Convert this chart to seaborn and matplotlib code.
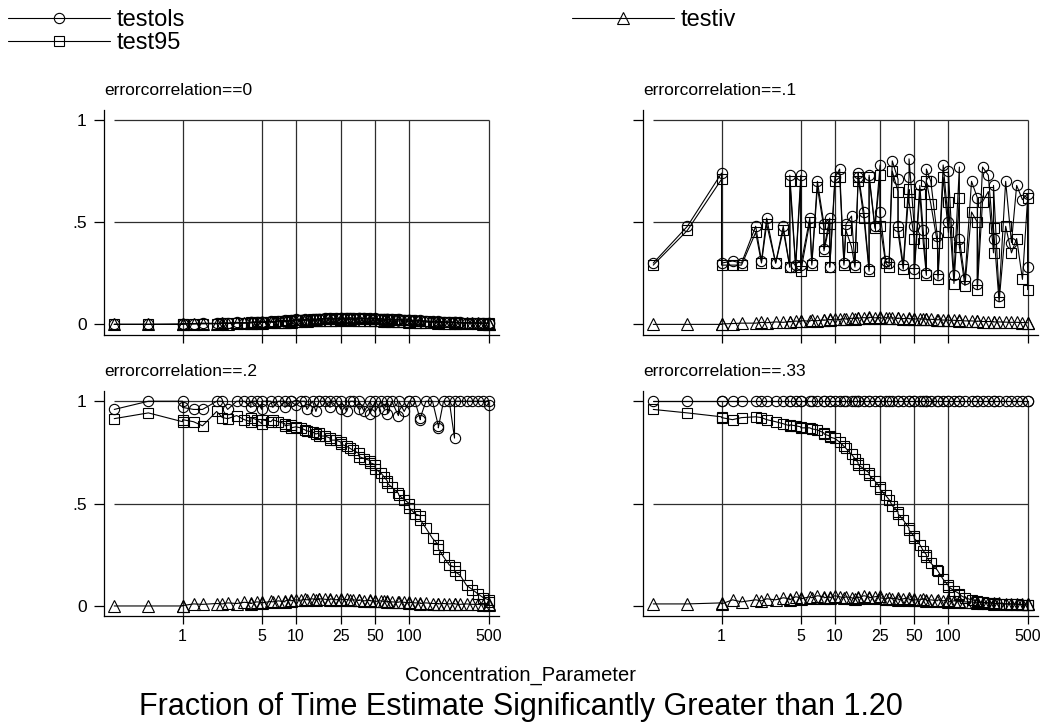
import matplotlib
matplotlib.use("Agg")
import matplotlib.pyplot as plt
from matplotlib.ticker import NullLocator
import seaborn as sns
import numpy as np

# ---------------- data ----------------
conc = [0.25, 0.5, 1, 1, 1.25, 1.5, 2, 2.25, 2.5, 3,
        3.5, 4, 4, 4.5, 5, 5, 6, 6.25, 7, 8,
        8, 9, 9, 10, 11, 12, 12.5, 14, 15, 16,
        16, 18, 20, 20, 22.5, 25, 25, 28, 30, 32,
        36, 36, 40, 45, 45, 50, 50, 56, 60, 64,
        64, 70, 80, 81, 90, 100, 100, 112, 125, 125,
        140, 160, 180, 180, 200, 225, 250, 250, 280, 320,
        360, 400, 450, 500, 500]

# errorcorrelation == 0
ols_0 = [0.000, 0.000, 0.002, 0.004, 0.004, 0.006, 0.005, 0.008, 0.006, 0.010,
         0.008, 0.012, 0.010, 0.012, 0.014, 0.012, 0.016, 0.013, 0.018, 0.020,
         0.016, 0.022, 0.018, 0.024, 0.021, 0.025, 0.022, 0.027, 0.024, 0.028,
         0.026, 0.030, 0.027, 0.031, 0.029, 0.032, 0.030, 0.031, 0.033, 0.030,
         0.032, 0.029, 0.031, 0.030, 0.028, 0.029, 0.027, 0.028, 0.026, 0.027,
         0.025, 0.026, 0.024, 0.025, 0.022, 0.023, 0.021, 0.020, 0.019, 0.018,
         0.017, 0.016, 0.015, 0.014, 0.013, 0.012, 0.011, 0.010, 0.010, 0.009,
         0.008, 0.008, 0.007, 0.006, 0.005]
t95_0 = [0.000, 0.000, 0.000, 0.002, 0.003, 0.004, 0.004, 0.006, 0.005, 0.008,
         0.007, 0.010, 0.009, 0.011, 0.012, 0.011, 0.014, 0.012, 0.016, 0.018,
         0.015, 0.020, 0.017, 0.022, 0.020, 0.023, 0.021, 0.025, 0.023, 0.026,
         0.025, 0.028, 0.026, 0.029, 0.027, 0.030, 0.028, 0.029, 0.030, 0.028,
         0.030, 0.027, 0.029, 0.028, 0.026, 0.027, 0.025, 0.026, 0.024, 0.025,
         0.023, 0.024, 0.022, 0.023, 0.020, 0.021, 0.019, 0.018, 0.017, 0.016,
         0.015, 0.014, 0.013, 0.012, 0.011, 0.011, 0.010, 0.009, 0.009, 0.008,
         0.007, 0.007, 0.006, 0.005, 0.004]
iv_0 = [0.000, 0.000, 0.000, 0.001, 0.002, 0.003, 0.003, 0.005, 0.004, 0.006,
        0.006, 0.008, 0.007, 0.009, 0.010, 0.009, 0.011, 0.010, 0.013, 0.014,
        0.012, 0.016, 0.014, 0.018, 0.016, 0.019, 0.017, 0.020, 0.019, 0.021,
        0.020, 0.022, 0.021, 0.023, 0.022, 0.024, 0.022, 0.023, 0.024, 0.022,
        0.023, 0.021, 0.022, 0.021, 0.020, 0.021, 0.019, 0.020, 0.018, 0.019,
        0.017, 0.018, 0.016, 0.017, 0.015, 0.015, 0.014, 0.013, 0.012, 0.012,
        0.011, 0.010, 0.010, 0.009, 0.008, 0.008, 0.007, 0.007, 0.006, 0.006,
        0.005, 0.005, 0.004, 0.004, 0.003]

# errorcorrelation == .1
ols_1 = [0.30, 0.48, 0.74, 0.30, 0.31, 0.30, 0.48, 0.31, 0.52, 0.30,
         0.48, 0.28, 0.73, 0.29, 0.73, 0.29, 0.52, 0.30, 0.70, 0.49,
         0.37, 0.52, 0.28, 0.72, 0.76, 0.30, 0.49, 0.53, 0.29, 0.72,
         0.74, 0.55, 0.27, 0.73, 0.48, 0.78, 0.55, 0.31, 0.30, 0.80,
         0.71, 0.48, 0.29, 0.72, 0.81, 0.48, 0.27, 0.68, 0.46, 0.25,
         0.76, 0.70, 0.43, 0.24, 0.78, 0.50, 0.75, 0.24, 0.77, 0.42,
         0.22, 0.70, 0.62, 0.20, 0.77, 0.73, 0.42, 0.68, 0.14, 0.70,
         0.40, 0.68, 0.61, 0.64, 0.28]
t95_1 = [0.29, 0.46, 0.71, 0.29, 0.29, 0.29, 0.45, 0.30, 0.49, 0.30,
         0.46, 0.28, 0.70, 0.28, 0.70, 0.26, 0.50, 0.29, 0.67, 0.47,
         0.36, 0.49, 0.28, 0.70, 0.72, 0.29, 0.46, 0.38, 0.28, 0.70,
         0.72, 0.52, 0.26, 0.72, 0.47, 0.73, 0.48, 0.30, 0.28, 0.75,
         0.65, 0.45, 0.27, 0.66, 0.60, 0.42, 0.25, 0.64, 0.40, 0.24,
         0.70, 0.59, 0.40, 0.22, 0.72, 0.45, 0.60, 0.20, 0.62, 0.38,
         0.19, 0.55, 0.50, 0.17, 0.60, 0.65, 0.35, 0.47, 0.11, 0.48,
         0.35, 0.42, 0.22, 0.62, 0.17]
iv_1 = [0.000, 0.000, 0.000, 0.002, 0.004, 0.006, 0.006, 0.010, 0.008, 0.012,
        0.010, 0.014, 0.012, 0.016, 0.015, 0.018, 0.016, 0.020, 0.018, 0.022,
        0.020, 0.024, 0.022, 0.026, 0.024, 0.028, 0.026, 0.030, 0.028, 0.032,
        0.030, 0.033, 0.031, 0.035, 0.032, 0.034, 0.030, 0.033, 0.030, 0.032,
        0.029, 0.031, 0.028, 0.030, 0.027, 0.028, 0.026, 0.027, 0.025, 0.026,
        0.024, 0.025, 0.022, 0.023, 0.021, 0.022, 0.020, 0.020, 0.018, 0.019,
        0.017, 0.017, 0.015, 0.016, 0.014, 0.014, 0.013, 0.012, 0.012, 0.011,
        0.010, 0.010, 0.009, 0.008, 0.008]

# errorcorrelation == .2
ols_2 = [0.96, 1.00, 1.00, 0.97, 0.96, 0.96, 1.00, 1.00, 0.96, 1.00,
         1.00, 0.97, 1.00, 1.00, 0.96, 1.00, 1.00, 0.97, 1.00, 1.00,
         0.97, 1.00, 1.00, 0.98, 1.00, 1.00, 0.96, 1.00, 0.95, 1.00,
         1.00, 1.00, 0.97, 1.00, 1.00, 0.96, 1.00, 0.95, 1.00, 1.00,
         0.96, 1.00, 0.95, 1.00, 0.94, 1.00, 0.95, 1.00, 0.96, 1.00,
         0.94, 1.00, 0.93, 1.00, 0.95, 1.00, 1.00, 1.00, 0.91, 0.92,
         1.00, 1.00, 0.88, 0.87, 1.00, 1.00, 0.82, 1.00, 1.00, 1.00,
         1.00, 1.00, 1.00, 1.00, 0.98]
t95_2 = [0.915, 0.943, 0.900, 0.910, 0.900, 0.880, 0.950, 0.920, 0.915, 0.930,
         0.910, 0.900, 0.920, 0.910, 0.890, 0.910, 0.900, 0.910, 0.900, 0.890,
         0.880, 0.885, 0.870, 0.875, 0.870, 0.860, 0.855, 0.850, 0.840, 0.845,
         0.830, 0.830, 0.820, 0.810, 0.810, 0.800, 0.790, 0.780, 0.770, 0.760,
         0.745, 0.730, 0.720, 0.710, 0.700, 0.690, 0.670, 0.650, 0.630, 0.610,
         0.600, 0.580, 0.550, 0.540, 0.520, 0.500, 0.480, 0.450, 0.440, 0.420,
         0.380, 0.330, 0.300, 0.280, 0.240, 0.200, 0.190, 0.170, 0.150, 0.100,
         0.080, 0.060, 0.040, 0.030, 0.020]
iv_2 = [0.000, 0.000, 0.000, 0.002, 0.010, 0.008, 0.012, 0.010, 0.015, 0.012,
        0.018, 0.015, 0.012, 0.020, 0.018, 0.015, 0.022, 0.020, 0.025, 0.020,
        0.025, 0.030, 0.025, 0.030, 0.028, 0.032, 0.030, 0.035, 0.030, 0.032,
        0.035, 0.033, 0.030, 0.035, 0.030, 0.035, 0.030, 0.032, 0.028, 0.030,
        0.027, 0.030, 0.025, 0.028, 0.025, 0.025, 0.022, 0.025, 0.022, 0.020,
        0.022, 0.020, 0.018, 0.020, 0.018, 0.015, 0.018, 0.015, 0.015, 0.012,
        0.015, 0.012, 0.012, 0.010, 0.012, 0.010, 0.012, 0.010, 0.008, 0.010,
        0.008, 0.008, 0.006, 0.008, 0.005]

# errorcorrelation == .33
ols_33 = [1.00, 1.00, 1.00, 1.00, 1.00, 1.00, 1.00, 1.00, 1.00, 1.00,
          1.00, 1.00, 1.00, 1.00, 1.00, 1.00, 1.00, 1.00, 1.00, 1.00,
          1.00, 1.00, 1.00, 1.00, 1.00, 1.00, 1.00, 1.00, 1.00, 1.00,
          1.00, 1.00, 1.00, 1.00, 1.00, 1.00, 1.00, 1.00, 1.00, 1.00,
          1.00, 1.00, 1.00, 1.00, 1.00, 1.00, 1.00, 1.00, 1.00, 1.00,
          1.00, 1.00, 1.00, 1.00, 1.00, 1.00, 1.00, 1.00, 1.00, 1.00,
          1.00, 1.00, 1.00, 1.00, 1.00, 1.00, 1.00, 1.00, 1.00, 1.00,
          1.00, 1.00, 1.00, 1.00, 1.00]
t95_33 = [0.960, 0.943, 0.924, 0.920, 0.910, 0.920, 0.924, 0.920, 0.910, 0.900,
          0.890, 0.880, 0.885, 0.880, 0.875, 0.870, 0.870, 0.865, 0.860, 0.845,
          0.840, 0.830, 0.825, 0.818, 0.800, 0.780, 0.770, 0.740, 0.720, 0.700,
          0.690, 0.670, 0.650, 0.640, 0.610, 0.580, 0.570, 0.540, 0.520, 0.490,
          0.460, 0.450, 0.420, 0.380, 0.370, 0.340, 0.330, 0.300, 0.270, 0.250,
          0.240, 0.210, 0.175, 0.170, 0.130, 0.100, 0.094, 0.075, 0.060, 0.055,
          0.040, 0.030, 0.025, 0.020, 0.018, 0.015, 0.013, 0.012, 0.012, 0.010,
          0.010, 0.008, 0.006, 0.005, 0.004]
iv_33 = [0.010, 0.010, 0.015, 0.010, 0.030, 0.020, 0.030, 0.025, 0.035, 0.030,
         0.040, 0.035, 0.030, 0.045, 0.040, 0.035, 0.045, 0.040, 0.050, 0.045,
         0.040, 0.045, 0.040, 0.050, 0.045, 0.040, 0.045, 0.040, 0.035, 0.045,
         0.040, 0.050, 0.045, 0.040, 0.045, 0.050, 0.040, 0.035, 0.040, 0.035,
         0.040, 0.030, 0.035, 0.040, 0.030, 0.035, 0.030, 0.030, 0.035, 0.030,
         0.025, 0.030, 0.025, 0.030, 0.025, 0.030, 0.020, 0.025, 0.020, 0.025,
         0.020, 0.020, 0.015, 0.020, 0.015, 0.015, 0.015, 0.010, 0.015, 0.010,
         0.010, 0.010, 0.008, 0.010, 0.008]

panel_titles = ["errorcorrelation==0", "errorcorrelation==.1",
                "errorcorrelation==.2", "errorcorrelation==.33"]
series_names = ["testols", "test95", "testiv"]
panel_data = [(ols_0, t95_0, iv_0), (ols_1, t95_1, iv_1),
              (ols_2, t95_2, iv_2), (ols_33, t95_33, iv_33)]
xtick_vals = [1, 5, 10, 25, 50, 100, 500]
xtick_labels = ["1", "5", "10", "25", "50", "100", "500"]
ytick_vals = [0, 0.5, 1]
ytick_labels = ["0", ".5", "1"]
x_title = "Concentration_Parameter"
main_title = "Fraction of Time Estimate Significantly Greater than 1.20"

# ---------------- style ----------------
sns.set_theme(style="white")
plt.rcParams['font.family'] = ['Liberation Sans', 'DejaVu Sans']
plt.rcParams['text.color'] = 'black'
plt.rcParams['axes.labelcolor'] = 'black'
plt.rcParams['xtick.color'] = 'black'
plt.rcParams['ytick.color'] = 'black'
plt.rcParams['axes.titlecolor'] = 'black'

W, H = 1042, 725
fig = plt.figure(figsize=(W / 100, H / 100), dpi=100)

def frac_rect(left_px, top_px, right_px, bottom_px):
    return [left_px / W, 1 - bottom_px / H, (right_px - left_px) / W, (bottom_px - top_px) / H]

rects = [frac_rect(104, 110, 499, 335), frac_rect(643, 110, 1038, 335),
         frac_rect(104, 391, 499, 616), frac_rect(643, 391, 1038, 616)]

markers = ["o", "s", "^"]
msizes = [7.4, 7.2, 8.0]
xlim = (0.203, 617)
ylims = [(-0.052, 1.049), (-0.052, 1.049), (-0.049, 1.050), (-0.049, 1.050)]
grid_c = "#2e2e2e"

axes = []
for i, rect in enumerate(rects):
    ax = fig.add_axes(rect)
    axes.append(ax)
    ax.set_xscale("log")
    ax.set_xlim(*xlim)
    ax.set_ylim(*ylims[i])
    # grid (Stata style: spans the data region)
    ax.hlines([v for v in ytick_vals if v > 0], min(conc), max(conc),
              colors=grid_c, lw=0.9, zorder=0.5)
    ax.vlines(xtick_vals, ylims[i][0], 1.0, colors=grid_c, lw=0.9, zorder=0.5)
    for s, (vals, mk, ms) in enumerate(zip(panel_data[i], markers, msizes)):
        sns.lineplot(x=conc, y=vals, ax=ax, estimator=None, sort=False,
                     errorbar=None, legend=False, color="black", lw=0.8,
                     marker=mk, markersize=ms, markerfacecolor="none",
                     markeredgecolor="black", markeredgewidth=0.8,
                     label=series_names[s], zorder=2 + s)
    leg = ax.get_legend()
    if leg is not None:
        leg.remove()
    ax.xaxis.set_minor_locator(NullLocator())
    ax.set_xticks(xtick_vals)
    ax.set_yticks(ytick_vals)
    if i >= 2:
        ax.set_xticklabels(xtick_labels)
    else:
        ax.set_xticklabels([])
    if i % 2 == 0:
        ax.set_yticklabels(ytick_labels)
    else:
        ax.set_yticklabels([])
    ax.tick_params(axis="x", which="major", direction="out", length=5.5, width=0.9,
                   color="black", labelcolor="black", labelsize=11.5, pad=4, bottom=True)
    ax.tick_params(axis="y", which="major", direction="out", length=7.5, width=0.9,
                   color="black", labelcolor="black", labelsize=12.5, pad=5, left=True)
    for side in ["top", "right"]:
        ax.spines[side].set_visible(False)
    for side in ["left", "bottom"]:
        ax.spines[side].set_visible(True)
        ax.spines[side].set_color("black")
        ax.spines[side].set_linewidth(0.9)
    ax.set_xlabel("")
    ax.set_ylabel("")
    ax.set_title(panel_titles[i], loc="left", fontsize=12.5, pad=11, color="black")
    ax.grid(False)

handles, labels = axes[0].get_legend_handles_labels()
hmap = dict(zip(labels, handles))
leg_kw = dict(frameon=False, fontsize=17, handlelength=4.3, handletextpad=0.3,
              borderpad=0, borderaxespad=0, labelspacing=0.05, numpoints=1,
              loc="upper left", labelcolor="black")
fig.legend([hmap["testols"], hmap["test95"]], ["testols", "test95"],
           bbox_to_anchor=(8 / W, 1 - 9 / H), **leg_kw)
fig.legend([hmap["testiv"]], ["testiv"],
           bbox_to_anchor=(572 / W, 1 - 9 / H), **leg_kw)

fig.text(0.5, 1 - 681 / H, x_title, ha="center", va="baseline", fontsize=14.5,
         color="black")
fig.text(0.5, 1 - 715 / H, main_title, ha="center", va="baseline", fontsize=22,
         color="black")

fig.savefig("out.png", dpi=100, facecolor="white")
